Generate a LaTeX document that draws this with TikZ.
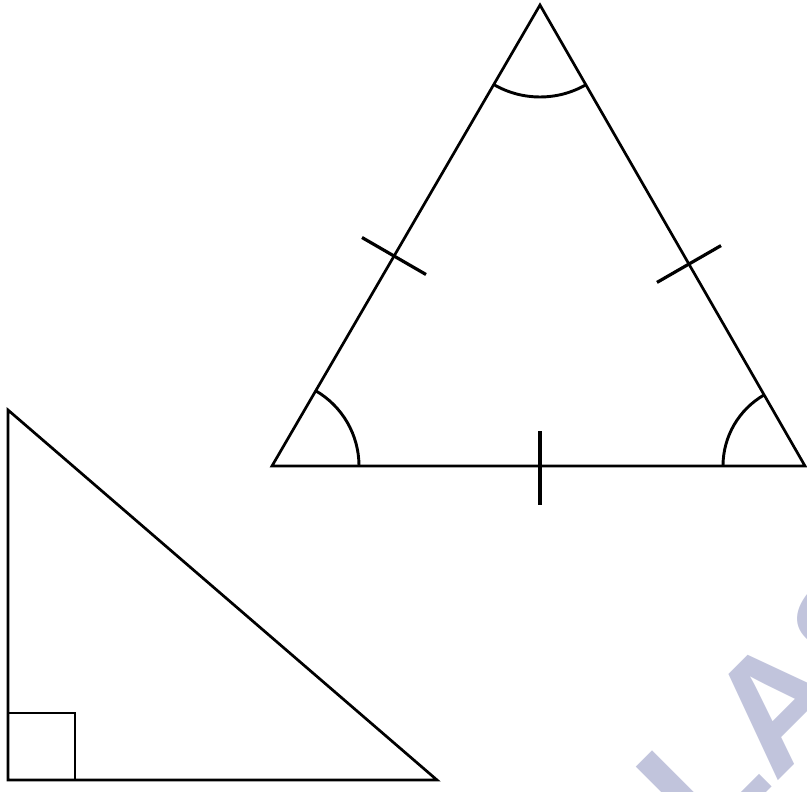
\documentclass[tikz,border=0pt]{standalone}
\usepackage{fontspec}
\newfontfamily\wmfont{Liberation Sans}
\usetikzlibrary{calc}
\definecolor{wmcol}{RGB}{193,196,220}
\begin{document}
\begin{tikzpicture}[x=1pt,y=1pt,
  edge/.style={line width=2.7pt, line join=miter},
  anglemark/.style={line width=2.9pt},
  tickmark/.style={line width=3.2pt},
  wmtext/.style={text=wmcol, inner sep=0pt, font=\wmfont\bfseries\fontsize{160}{160}\selectfont}]
\useasboundingbox (0,0) rectangle (807,-792);
\fill[white] (0,0) rectangle (807,-792);
% watermark
\begin{scope}
\clip (0,0) rectangle (807,-792);
\node[wmtext, rotate=45, anchor=base west] (wm) at (706,-853) {LAS};
\end{scope}
% equilateral triangle
\coordinate (A) at (540,-5);
\coordinate (B) at (272,-466);
\coordinate (C) at (805,-466);
\draw[edge] (A) -- (B) -- (C) -- cycle;
\draw[anglemark] ($(A)+(240:92)$) arc[start angle=240, end angle=300, radius=92];
\draw[anglemark] ($(B)+(0:87)$) arc[start angle=0, end angle=60, radius=87];
\draw[anglemark] ($(C)+(120:82)$) arc[start angle=120, end angle=180, radius=82];
% ticks
\coordinate (t1a) at (362,-237.5);
\coordinate (t1b) at (426,-274.5);
\coordinate (t2a) at (657,-282.4);
\coordinate (t2b) at (721,-245.6);
\coordinate (t3a) at (540,-431);
\coordinate (t3b) at (540,-505);
\draw[tickmark] (t1a) -- (t1b);
\draw[tickmark] (t2a) -- (t2b);
\draw[tickmark] (t3a) -- (t3b);
% right triangle
\coordinate (P) at (8,-410);
\coordinate (Q) at (8,-780);
\coordinate (R) at (437,-780);
\draw[edge] (P) -- (Q) -- (R) -- cycle;
\coordinate (S1) at (8,-713);
\coordinate (S2) at (75,-713);
\coordinate (S3) at (75,-780);
\draw[edge] (S1) -- (S2) -- (S3);
\end{tikzpicture}
\end{document}
